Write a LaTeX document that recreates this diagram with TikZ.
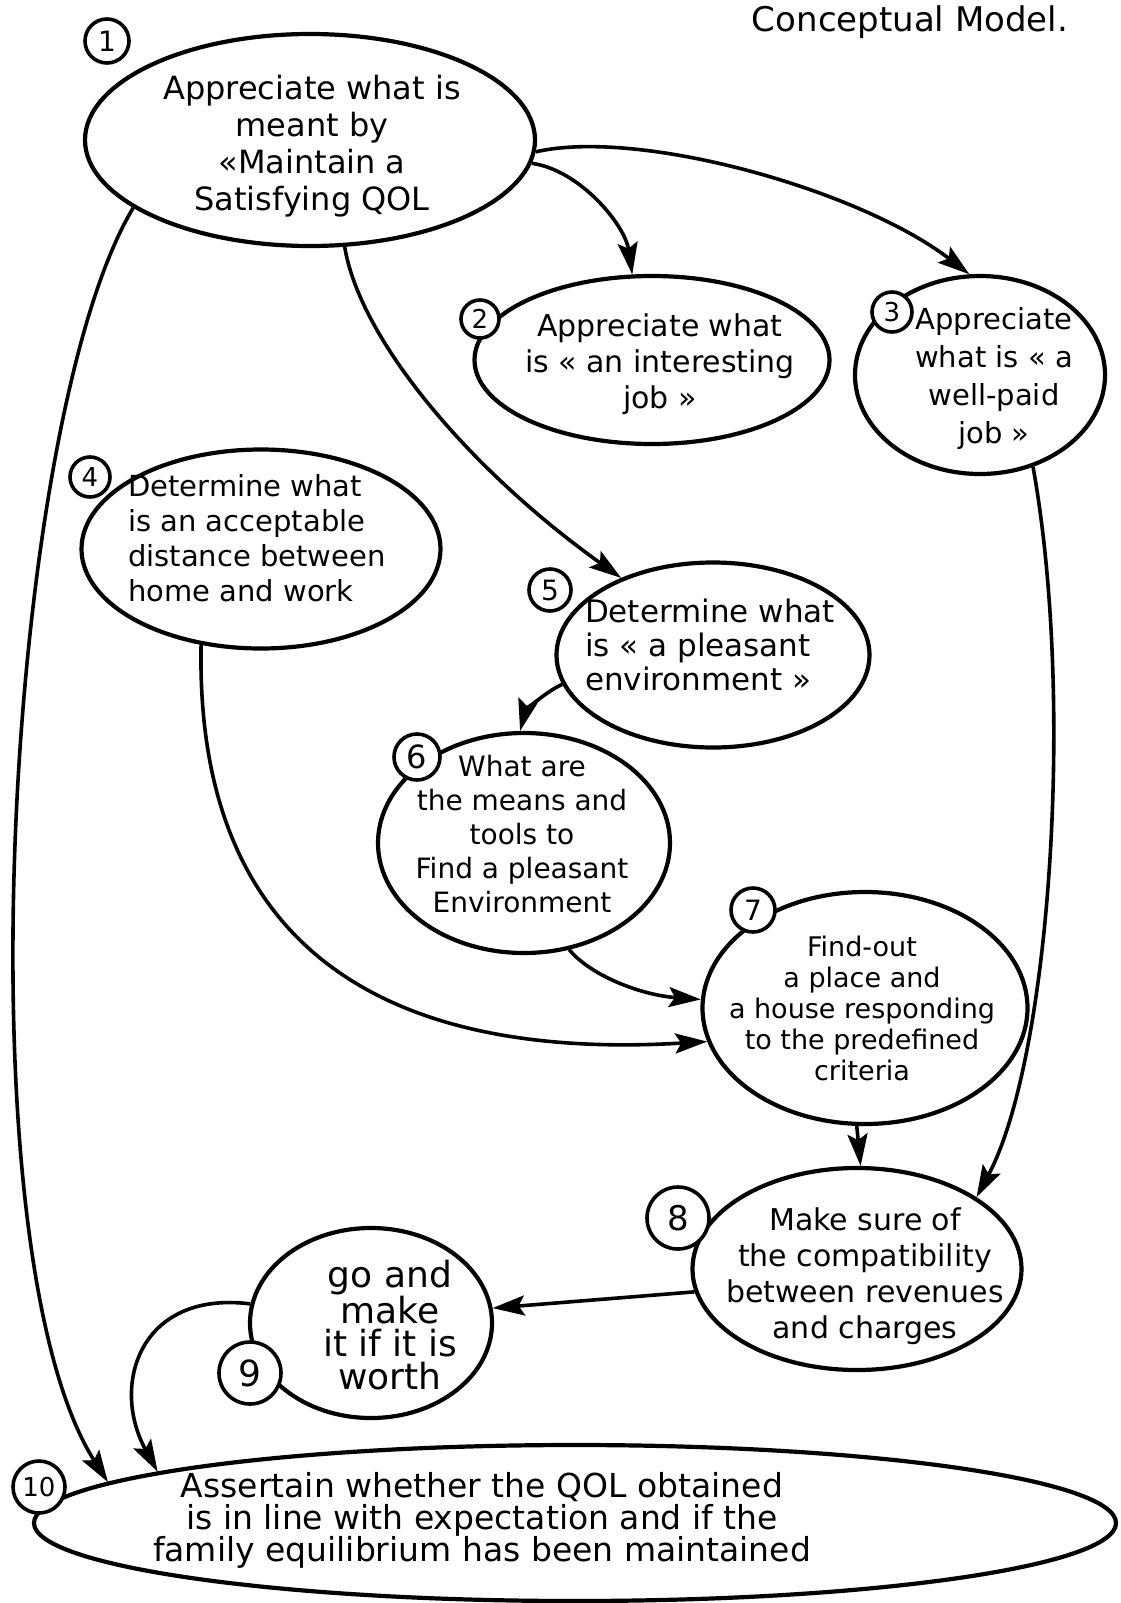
\documentclass[tikz,border=0pt]{standalone}
\usepackage{fontspec}
\setmainfont{DejaVu Sans}
\usetikzlibrary{
    positioning,
    arrows.meta,
    shapes.geometric
}

\begin{document}
\begin{tikzpicture}[x=1pt, y=-1pt,
    bubble/.style={draw, ellipse, line width=4.2pt, inner sep=0pt},
    num/.style={draw, circle, fill=white, line width=3.6pt, inner sep=0pt},
    txt/.style={align=center, inner sep=0pt},
    flow/.style={line width=3.6pt, -{Stealth[length=32pt, width=20pt, inset=6pt]}}]
    \useasboundingbox (0,0) rectangle (1120,1603);

    % the activities
    \node[bubble, minimum width=450pt, minimum height=212pt] (e1) at (310,140) {};
    \node[bubble, minimum width=355pt, minimum height=168pt] (e2) at (652,360) {};
    \node[bubble, minimum width=250pt, minimum height=198pt] (e3) at (980,375) {};
    \node[bubble, minimum width=359pt, minimum height=199pt] (e4) at (261,549) {};
    \node[bubble, minimum width=313pt, minimum height=185pt] (e5) at (713,655) {};
    \node[bubble, minimum width=292pt, minimum height=220pt] (e6) at (524,843) {};
    \node[bubble, minimum width=325pt, minimum height=232pt] (e7) at (865,1008) {};
    \node[bubble, minimum width=329pt, minimum height=202pt] (e8) at (857,1269) {};
    \node[bubble, minimum width=242pt, minimum height=190pt] (e9) at (371,1323) {};
    \node[bubble, minimum width=1082pt, minimum height=156pt] (e10) at (575,1523) {};

    % numbers
    \node[num, minimum size=44pt, font=\fontsize{28}{28}\selectfont] (n1) at (107,41) {1};
    \node[num, minimum size=38pt, font=\fontsize{26}{26}\selectfont] (n2) at (480,319) {2};
    \node[num, minimum size=40pt, font=\fontsize{26}{26}\selectfont] (n3) at (892,312) {3};
    \node[num, minimum size=40pt, font=\fontsize{26}{26}\selectfont] (n4) at (90,477) {4};
    \node[num, minimum size=42pt, font=\fontsize{28}{28}\selectfont] (n5) at (550,590) {5};
    \node[num, minimum size=46pt, font=\fontsize{32}{32}\selectfont] (n6) at (417,757) {6};
    \node[num, minimum size=44pt, font=\fontsize{28}{28}\selectfont] (n7) at (753,910) {7};
    \node[num, minimum size=62pt, font=\fontsize{34}{34}\selectfont] (n8) at (678,1218) {8};
    \node[num, minimum size=62pt, font=\fontsize{36}{36}\selectfont] (n9) at (250,1373) {9};
    \node[num, minimum size=52pt, font=\fontsize{26}{26}\selectfont] (n10) at (39,1487) {10};

    % texts
    \node[txt, font=\fontsize{32}{37}\selectfont] (t1) at (312,146)
        {Appreciate what is\\meant by\\«Maintain a\\Satisfying QOL};
    \node[txt, font=\fontsize{30}{36}\selectfont] (t2) at (660,364)
        {Appreciate what\\is « an interesting\\job »};
    \node[txt, font=\fontsize{29}{38}\selectfont] (t3) at (994,378)
        {Appreciate\\what is « a\\well-paid\\job »};
    \node[txt, align=left, font=\fontsize{29}{35}\selectfont] (t4) at (257,538)
        {Determine what\\is an acceptable\\distance between\\home and work};
    \node[txt, align=left, font=\fontsize{31}{34}\selectfont] (t5) at (710,645)
        {Determine what\\is « a pleasant\\environment »};
    \node[txt, font=\fontsize{28}{34}\selectfont] (t6) at (522,834)
        {What are\\the means and\\tools to\\Find a pleasant\\Environment};
    \node[txt, font=\fontsize{27}{31}\selectfont] (t7) at (862,1008)
        {Find-out\\a place and\\a house responding\\to the predefined\\criteria};
    \node[txt, font=\fontsize{30}{36}\selectfont] (t8) at (865,1276)
        {Make sure of\\the compatibility\\between revenues\\and charges};
    \node[txt, font=\fontsize{36}{33}\selectfont] (t9) at (390,1325)
        {go and\\make\\it if it is\\worth};
    \node[txt, font=\fontsize{33}{32}\selectfont] (t10) at (482,1520)
        {Assertain whether the QOL obtained\\is in line with expectation and if the\\family equilibrium has been maintained};
    \node[txt, font=\fontsize{34}{34}\selectfont] (title) at (910,22) {Conceptual Model.};

    % links
    \draw[flow] (e1.201) .. controls (5,420) and (-40,1250) .. (e10.175);
    \draw[flow] (e1.-6) .. controls (580,170) and (625,225) .. (e2.103);
    \draw[flow] (e1.-3) .. controls (640,128) and (860,190) .. (e3.96);
    \draw[flow] (e1.-72) .. controls (360,340) and (470,470) .. (e5.140);
    \draw[flow] (e3.-60) .. controls (1075,700) and (1050,1060) .. (e8.31);
    \draw[flow] (e5.191) .. controls (545,692) and (525,712) .. (e6.92);
    \draw[flow] (e4.238) .. controls (195,960) and (400,1060) .. (e7.192);
    \draw[flow] (e6.-67) .. controls (590,975) and (640,995) .. (e7.177);
    \draw[flow] (e7.266) -- (e8.88);
    \draw[flow] (e8.188) -- (e9.7);
    \draw[flow] (e9.171) .. controls (140,1290) and (110,1385) .. (e10.173);
\end{tikzpicture}
\end{document}
